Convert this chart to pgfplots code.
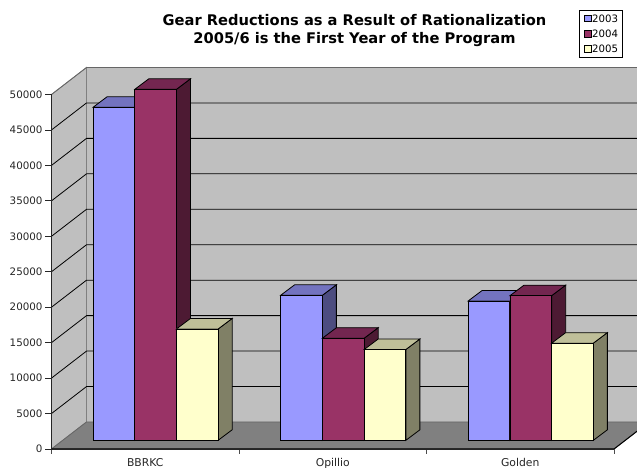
\documentclass[border=0pt]{standalone}
\usepackage{fontspec}
\setmainfont{DejaVu Sans}
\usepackage{pgfplots}
\pgfplotsset{compat=1.18}
\definecolor{cA}{HTML}{9999FF}\definecolor{cAt}{HTML}{7373BF}\definecolor{cAs}{HTML}{4D4D80}
\definecolor{cB}{HTML}{993366}\definecolor{cBt}{HTML}{732650}\definecolor{cBs}{HTML}{4D1A33}
\definecolor{cC}{HTML}{FFFFCC}\definecolor{cCt}{HTML}{BFBF99}\definecolor{cCs}{HTML}{808066}
% side and top faces of one bar: centre x, value, side colour, top colour
\newcommand\depth[4]{%
  \pgfmathsetmacro\xa{#1-20.85}\pgfmathsetmacro\xb{#1+20.85}%
  \pgfmathsetmacro\xc{#1+20.85+14}\pgfmathsetmacro\xd{#1-20.85+14}%
  \edef\yt{\the\numexpr#2+1481\relax}%
  \addplot[forget plot,fill=#3,draw=black,line width=0.8pt] coordinates {(\xb,0)(\xc,1481)(\xc,\yt)(\xb,#2)} --cycle;
  \addplot[forget plot,fill=#4,draw=black,line width=0.8pt] coordinates {(\xa,#2)(\xd,\yt)(\xc,\yt)(\xb,#2)} --cycle;
}
\begin{document}
\begin{tikzpicture}[x=1pt,y=1pt]
\clip (0,0) rectangle (637,468);
\path[use as bounding box] (0,0) rectangle (637,468);
\begin{axis}[
  at={(51.5pt,19pt)},anchor=origin,
  scale only axis,width=562.5pt,height=354.5pt,
  xmin=0,xmax=562.5,ymin=0,ymax=50000,clip=false,axis on top,
  axis x line*=bottom,axis y line*=left,
  axis line style={-,draw=black!85,line width=0.9pt},
  ytick={0,5000,...,50000},
  scaled y ticks=false,
  /pgf/number format/fixed,
  /pgf/number format/1000 sep={},
  /pgf/number format/assume math mode=true,
  yticklabel style={font=\fontsize{10.3}{12}\selectfont,xshift=0.5pt,text=black!85},
  xticklabel style={font=\fontsize{10.8}{12}\selectfont,text=black!85,yshift=0pt},
  xtick={93.75,281.25,468.75},xticklabels={BBRKC,Opillio,Golden},
  minor xtick={0,187.5,375,562.5},
  major x tick style={draw=none},
  y tick style={draw=black!85,line width=0.8pt},
  minor x tick style={draw=black!70,line width=0.8pt},
  tick align=outside,major tick length=6pt,minor tick length=5pt,
]
\addplot[fill=black!25,draw=black!50,line width=0.8pt] coordinates {(0,0)(35,3808)(35,53808)(0,50000)} --cycle;
\addplot[fill=black!25,draw=black!50,line width=0.8pt] coordinates {(35,3808)(597.5,3808)(597.5,53808)(35,53808)} --cycle;
\addplot[fill=black!50,draw=black!60,line width=0.8pt] coordinates {(0,0)(35,3808)(597.5,3808)(562.5,0)} --cycle;
\addplot[black,line width=0.8pt] coordinates {(0,5000)(35,8808)(597.5,8808)};
\addplot[black,line width=0.8pt] coordinates {(0,10000)(35,13808)(597.5,13808)};
\addplot[black,line width=0.8pt] coordinates {(0,15000)(35,18808)(597.5,18808)};
\addplot[black,line width=0.8pt] coordinates {(0,20000)(35,23808)(597.5,23808)};
\addplot[black,line width=0.8pt] coordinates {(0,25000)(35,28808)(597.5,28808)};
\addplot[black,line width=0.8pt] coordinates {(0,30000)(35,33808)(597.5,33808)};
\addplot[black,line width=0.8pt] coordinates {(0,35000)(35,38808)(597.5,38808)};
\addplot[black,line width=0.8pt] coordinates {(0,40000)(35,43808)(597.5,43808)};
\addplot[black,line width=0.8pt] coordinates {(0,45000)(35,48808)(597.5,48808)};
\addplot[black!60,line width=0.8pt] coordinates {(0,50000)(35,53808)(597.5,53808)};
\addplot[black,line width=1pt] coordinates {(0,0)(562.5,0)(597.5,3808)};
\end{axis}
\begin{axis}[
  at={(51.5pt,27.7pt)},anchor=origin,
  scale only axis,width=562.5pt,height=354.5pt,
  xmin=0,xmax=562.5,ymin=0,ymax=50000,clip=false,
  hide x axis,hide y axis,
  legend cell align=left,
  legend image code/.code={\draw[#1,line width=0.7pt] (0pt,-3.3pt) rectangle (7.2pt,3.3pt);},
  legend style={at={(axis description cs:0.9383,1.2138)},anchor=north west,
    draw=black,line width=0.7pt,fill=white,inner xsep=4pt,inner ysep=3.5pt,
    font=\fontsize{10.2}{12}\selectfont,
    nodes={inner sep=0.6pt,text depth=0pt,text height=7.6pt},
    /tikz/every even column/.append style={column sep=0pt},
    row sep=6.6pt},
]
\depth{62.4}{46970}{cAs}{cAt}
\depth{250}{20450}{cAs}{cAt}
\depth{437.5}{19650}{cAs}{cAt}
\addplot[ybar,bar width=41.7,fill=cA,draw=black,line width=0.8pt] coordinates {(62.4,46970)(250,20450)(437.5,19650)};
\addlegendentry{2003}
\depth{104.1}{49500}{cBs}{cBt}
\depth{291.8}{14400}{cBs}{cBt}
\depth{479.3}{20400}{cBs}{cBt}
\addplot[ybar,bar width=41.7,fill=cB,draw=black,line width=0.8pt] coordinates {(104.1,49500)(291.8,14400)(479.3,20400)};
\addlegendentry{2004}
\depth{145.8}{15700}{cCs}{cCt}
\depth{333.5}{12800}{cCs}{cCt}
\depth{521}{13700}{cCs}{cCt}
\addplot[ybar,bar width=41.7,fill=cC,draw=black,line width=0.8pt] coordinates {(145.8,15700)(333.5,12800)(521,13700)};
\addlegendentry{2005}
\end{axis}
\node[align=center,font=\fontsize{14.65}{18}\selectfont\bfseries] at (354.5,437) {Gear Reductions as a Result of Rationalization\\2005/6 is the First Year of the Program};
\end{tikzpicture}
\end{document}
